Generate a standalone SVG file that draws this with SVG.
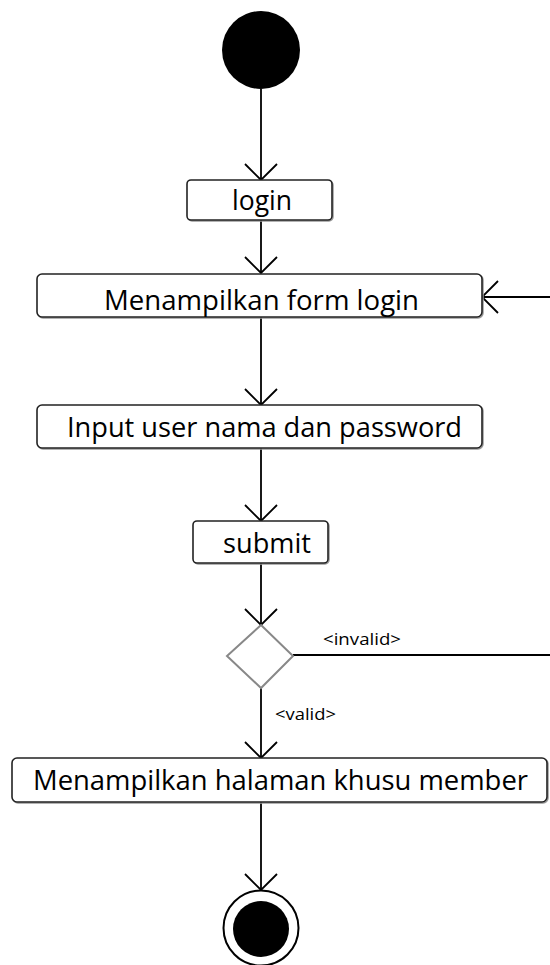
<svg xmlns="http://www.w3.org/2000/svg" width="550" height="965" viewBox="0 0 550 965">
  <defs>
    <marker id="open" markerUnits="userSpaceOnUse" markerWidth="40" markerHeight="40" refX="0" refY="0" viewBox="-20 -20 40 40" orient="auto" overflow="visible">
      <path d="M-16,-16 L0,0 L-16,16" fill="none" stroke="#000" stroke-width="1.8"/>
    </marker>
  </defs>
  <style>
    .box { fill: #fff; stroke: #222; stroke-width: 1.6; }
    .shadow { fill: none; stroke: #999; stroke-width: 1.5; }
    .lbl { font-family: "Open Sans", "Liberation Sans", sans-serif; font-size: 27px; fill: #000; }
    .guard { font-family: "Open Sans", "Liberation Sans", sans-serif; font-size: 17px; fill: #000; }
    .edge { fill: none; stroke: #000; stroke-width: 1.8; marker-end: url(#open); }
  </style>
  <rect width="550" height="965" fill="#fff"/>

  <g id="connectors">
    <line class="edge" x1="261" y1="89" x2="261" y2="180"/>
    <line class="edge" x1="261" y1="220" x2="261" y2="273"/>
    <line class="edge" x1="261" y1="317" x2="261" y2="405"/>
    <line class="edge" x1="261" y1="448" x2="261" y2="521"/>
    <line class="edge" x1="261" y1="563" x2="261" y2="625"/>
    <line class="edge" x1="261" y1="688" x2="261" y2="758"/>
    <line class="edge" x1="261" y1="802" x2="261" y2="890"/>
    <path class="edge" d="M293,655 L570,655 L570,297 L482,297"/>
    <text class="guard" x="323" y="645" textLength="78" lengthAdjust="spacingAndGlyphs">&lt;invalid&gt;</text>
    <text class="guard" x="275" y="720" textLength="61" lengthAdjust="spacingAndGlyphs">&lt;valid&gt;</text>
  </g>

  <g id="start">
    <circle cx="261" cy="50" r="39" fill="#000"/>
  </g>

  <g id="login">
    <rect class="shadow" x="188" y="181" width="145" height="40" rx="4"/>
    <rect class="box" x="187" y="180" width="145" height="40" rx="4"/>
    <text class="lbl" x="232" y="210" textLength="60" lengthAdjust="spacingAndGlyphs">login</text>
  </g>

  <g id="form">
    <rect class="shadow" x="38" y="275" width="445" height="43" rx="5"/>
    <rect class="box" x="37" y="274" width="445" height="43" rx="5"/>
    <text class="lbl" x="104" y="310" textLength="315" lengthAdjust="spacingAndGlyphs">Menampilkan form login</text>
  </g>

  <g id="input">
    <rect class="shadow" x="38" y="406" width="445" height="43" rx="5"/>
    <rect class="box" x="37" y="405" width="445" height="43" rx="5"/>
    <text class="lbl" x="67" y="437" textLength="395" lengthAdjust="spacingAndGlyphs">Input user nama dan password</text>
  </g>

  <g id="submit">
    <rect class="shadow" x="194" y="522" width="135" height="42" rx="4"/>
    <rect class="box" x="193" y="521" width="135" height="42" rx="4"/>
    <text class="lbl" x="223" y="553" textLength="88" lengthAdjust="spacingAndGlyphs">submit</text>
  </g>

  <g id="decision">
    <polygon points="261,625 293,656 261,688 227,656" fill="#fff" stroke="#888" stroke-width="2"/>
  </g>

  <g id="member">
    <rect class="shadow" x="13" y="759" width="535" height="44" rx="5"/>
    <rect class="box" x="12" y="758" width="535" height="44" rx="5"/>
    <text class="lbl" x="33" y="790" textLength="495" lengthAdjust="spacingAndGlyphs">Menampilkan halaman khusu member</text>
  </g>

  <g id="end">
    <circle cx="261" cy="928" r="37.5" fill="#fff" stroke="#000" stroke-width="2"/>
    <circle cx="261" cy="929" r="28" fill="#000"/>
  </g>
</svg>
